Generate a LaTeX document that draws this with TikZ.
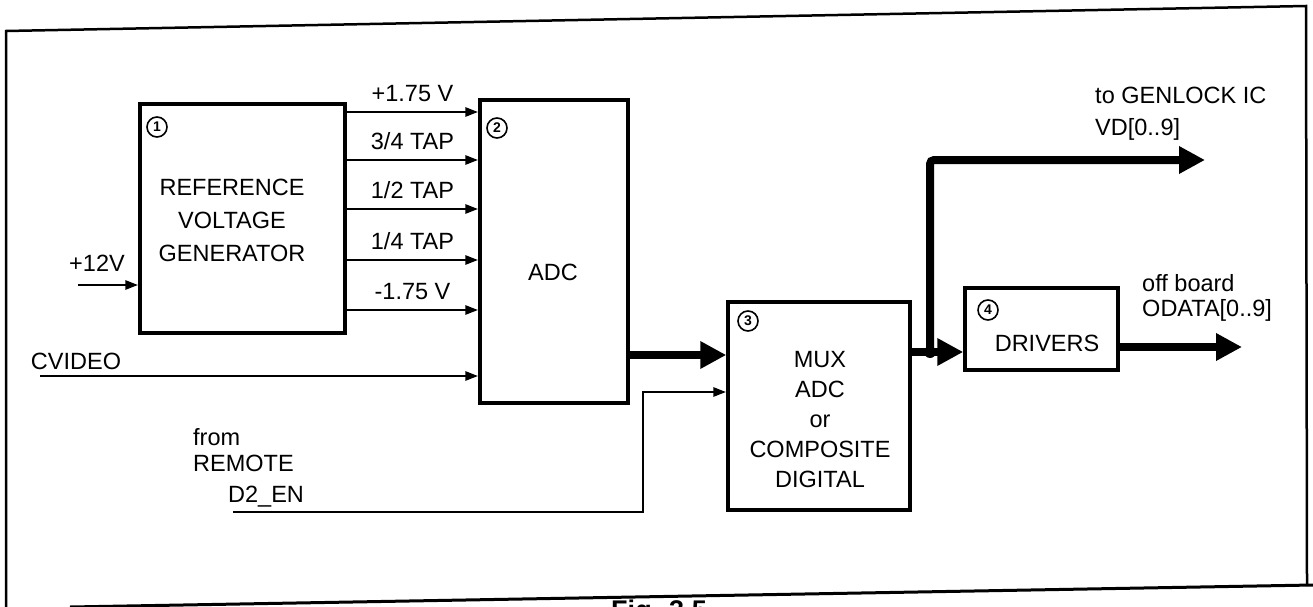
\documentclass[tikz,border=0pt]{standalone}
\usepackage{fontspec}
\setmainfont{Liberation Sans}
\usetikzlibrary{arrows.meta}

\begin{document}
\begin{tikzpicture}[x=1pt, y=-1pt,
    box/.style={draw, line width=3.5pt, inner sep=0pt},
    txt/.style={font=\fontsize{23.5}{33}\selectfont, align=center, inner sep=0pt},
    num/.style={circle, draw, line width=1.6pt, inner sep=0pt, minimum size=20pt, font=\fontsize{14}{14}\selectfont\bfseries},
    sig/.style={line width=2.8pt, -{Triangle[length=13pt, width=9pt]}},
    bus/.style={line width=8pt, -{Triangle[length=26pt, width=26pt]}}]

    \useasboundingbox (0,0) rectangle (1313,607);

    % Frame and caption
    \draw[line width=2.5pt] (6,607) -- (6,31) -- (1306,6) -- (1307,586);
    \draw[line width=3pt] (70,607) -- (1313,585);
    \node[font=\fontsize{27}{27}\selectfont\bfseries, anchor=north, inner sep=0pt] (cap) at (659,600) {Fig. 3.5};

    % Define blocks with coordinates
    \node[box, minimum width=205pt, minimum height=229pt] (gen) at (242.5,218.5) {};
    \node[box, minimum width=148pt, minimum height=303pt] (adc) at (554,251.5) {};
    \node[box, minimum width=182pt, minimum height=208pt] (mux) at (819,406) {};
    \node[box, minimum width=153pt, minimum height=82pt] (drv) at (1041.5,329) {};

    % Block texts and numbers
    \node[txt] (gentxt) at (232,220) {REFERENCE\\VOLTAGE\\GENERATOR};
    \node[txt] (adctxt) at (553,272) {ADC};
    \node[txt, font=\fontsize{23.5}{30}\selectfont] (muxtxt) at (820,420) {MUX\\ADC\\or\\COMPOSITE\\DIGITAL};
    \node[txt] (drvtxt) at (1047,343) {DRIVERS};
    \node[num] (n1) at (157,127) {1};
    \node[num] (n2) at (497,128) {2};
    \node[num] (n3) at (748,321) {3};
    \node[num] (n4) at (988,310) {4};

    % Reference taps into the ADC
    \draw[sig] (gen.east |- 0,112) -- node[txt, above=9pt] (t1) {+1.75 V} (adc.west |- 0,112);
    \draw[sig] (gen.east |- 0,160) -- node[txt, above=9pt] (t2) {3/4 TAP} (adc.west |- 0,160);
    \draw[sig] (gen.east |- 0,209) -- node[txt, above=9pt] (t3) {1/2 TAP} (adc.west |- 0,209);
    \draw[sig] (gen.east |- 0,260) -- node[txt, above=9pt] (t4) {1/4 TAP} (adc.west |- 0,260);
    \draw[sig] (gen.east |- 0,310) -- node[txt, above=9pt] (t5) {-1.75 V} (adc.west |- 0,310);

    % Inputs
    \coordinate (in12) at (78,285);
    \coordinate (cv) at (40,376);
    \coordinate (d2) at (233,512);
    \coordinate (d2k) at (643,392);
    \draw[sig] (in12) -- (gen.west |- in12);
    \draw[sig] (cv) -- (adc.west |- cv);
    \draw[sig] (d2) -| (d2k) -- (mux.west |- d2k);
    \node[txt] (l12) at (97,263) {+12V};
    \node[txt] (lcv) at (76,361) {CVIDEO};
    \node[txt, anchor=west, align=left, font=\fontsize{23.5}{26}\selectfont] (lfrom) at (193,450) {from\\REMOTE};
    \node[txt, anchor=west] (ld2) at (228,497) {D2\_EN};

    % Data buses
    \coordinate (jn) at (930,352);
    \coordinate (vdout) at (1205,160);
    \coordinate (odout) at (1242,347);
    \draw[bus] (adc.east |- 0,355) -- (mux.west |- 0,355);
    \draw[bus] (mux.east |- jn) -- (drv.west |- jn);
    \draw[bus, rounded corners=4pt] (jn) |- (vdout);
    \fill (jn) circle (6pt);
    \draw[bus] (drv.east |- odout) -- (odout);
    \node[txt, anchor=west, align=left, font=\fontsize{23.5}{32}\selectfont] (lvd) at (1095,114) {to GENLOCK IC\\VD[0..9]};
    \node[txt, anchor=west, align=left, font=\fontsize{23.5}{25}\selectfont] (lod) at (1142,297.5) {off board\\ODATA[0..9]};
\end{tikzpicture}
\end{document}
